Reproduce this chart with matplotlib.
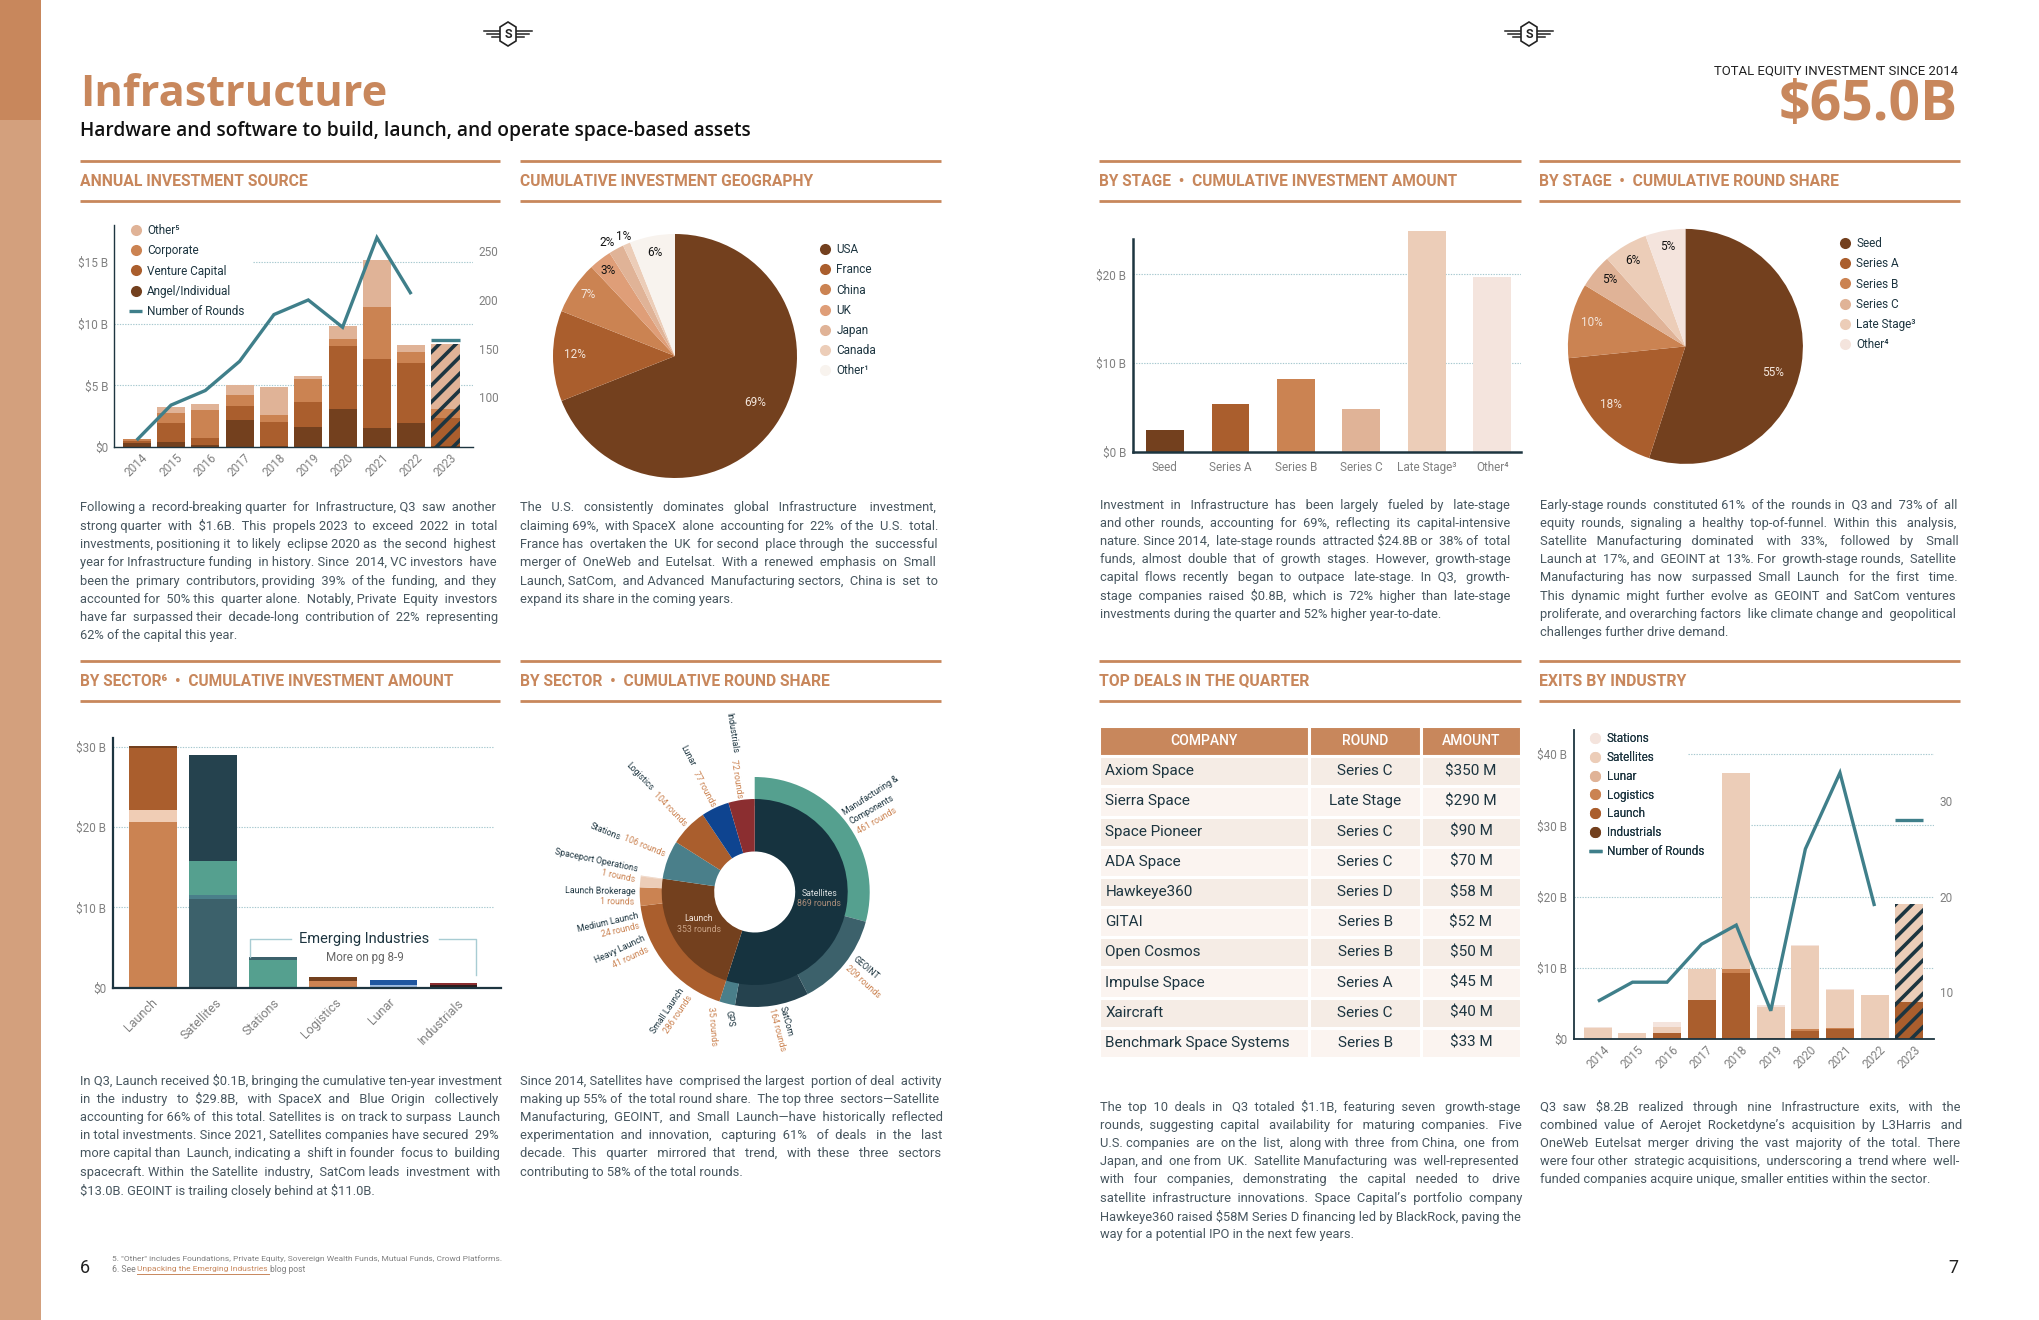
import matplotlib
matplotlib.use("Agg")
import matplotlib.pyplot as plt
from matplotlib.lines import Line2D
from matplotlib.patches import Rectangle, Polygon
from matplotlib.transforms import ScaledTranslation

plt.rcParams['font.family'] = ['Roboto', 'DejaVu Sans']
plt.rcParams['text.parse_math'] = False
plt.rcParams['hatch.linewidth'] = 2.6

W, H = 2040, 1320
INK = '#1D3540'; GREY = '#808080'; BODY = '#47565F'; TAN = '#C8875C'; TAN_L = '#D3A07D'
BR1 = '#73401E'; BR2 = '#AA5E2D'; BR3 = '#CB8352'; BR4 = '#E0B397'; BR5 = '#ECCDB8'; BR6 = '#F4E4DD'
TEAL = '#3F7F8A'; GRID = '#A6C8CF'

# ---- annual investment source
years = ['2014', '2015', '2016', '2017', '2018', '2019', '2020', '2021', '2022', '2023']
src_angel = [0.35, 0.43, 0.19, 2.21, 0.10, 1.64, 3.10, 1.56, 1.97, 0.10]
src_vc = [0.15, 1.54, 0.56, 1.13, 1.95, 2.03, 5.09, 5.58, 4.85, 2.27]
src_corp = [0.15, 0.81, 2.27, 0.89, 0.56, 1.86, 0.57, 4.21, 0.89, 0.73]
src_other = [0.00, 0.48, 0.48, 0.81, 2.27, 0.24, 1.05, 3.85, 0.56, 5.26]
src_rounds = [56, 92, 107, 137, 185, 200, 172, 264, 206]
src_rounds_2023 = 159

# ---- geography
geo_names = ['USA', 'France', 'China', 'UK', 'Japan', 'Canada', 'Other¹']
geo_share = [69, 12, 7, 3, 2, 1, 6]
geo_labels = ['69%', '12%', '7%', '3%', '2%', '1%', '6%']

# ---- stage
stage_names = ['Seed', 'Series A', 'Series B', 'Series C', 'Late Stage³', 'Other⁴']
stage_amount = [2.42, 5.37, 8.22, 4.80, 24.9, 19.7]
stage_share = [55, 18.4, 10.3, 4.7, 6.1, 5.5]
stage_legend = ['Seed', 'Series A', 'Series B', 'Series C', 'Late Stage³', 'Other⁴']
stage_labels = ['55%', '18%', '10%', '5%', '6%', '5%']

# ---- sector amount: one stack per sector, bottom first
sector_names = ['Launch', 'Satellites', 'Stations', 'Logistics', 'Lunar', 'Industrials']
launch_parts = [20.6, 1.5, 7.8, 0.2]
satellite_parts = [11.0, 0.6, 4.2, 13.2]
station_parts = [3.5, 0.35]
logistic_parts = [0.8, 0.55]
lunar_parts = [0.35, 0.6]
industrial_parts = [0.3, 0.3]

# ---- sector round share
sun_inner_names = ['Satellites', 'Launch', 'Stations', 'Logistics', 'Lunar', 'Industrials']
sun_inner = [869, 353, 106, 104, 77, 72]
sun_outer_names = ['Manufacturing & Components', 'GEOINT', 'SatCom', 'GPS', 'Small Launch',
                   'Heavy Launch', 'Medium Launch', 'Launch Brokerage', 'Spaceport Operations']
sun_outer = [461, 209, 164, 35, 286, 41, 24, 1, 1]

# ---- deals
deal_company = ['Axiom Space', 'Sierra Space', 'Space Pioneer', 'ADA Space', 'Hawkeye360', 'GITAI',
                'Open Cosmos', 'Impulse Space', 'Xaircraft', 'Benchmark Space Systems']
deal_round = ['Series C', 'Late Stage', 'Series C', 'Series C', 'Series D', 'Series B',
              'Series B', 'Series A', 'Series C', 'Series B']
deal_amount = ['$350 M', '$290 M', '$90 M', '$70 M', '$58 M', '$52 M', '$50 M', '$45 M', '$40 M', '$33 M']

# ---- exits
exit_industrials = [0, 0, 0, 0, 0, 0, 0, 0, 0, 0]
exit_launch = [0, 0, 0.9, 5.5, 9.35, 0.18, 1.2, 1.5, 0, 5.3]
exit_logistics = [0, 0, 0, 0, 0.48, 0, 0.3, 0.06, 0, 0]
exit_lunar = [0, 0, 0, 0, 0, 0, 0, 0, 0, 0]
exit_satellites = [1.56, 0.9, 0.84, 4.33, 27.52, 4.37, 11.57, 5.34, 6.23, 13.7]
exit_stations = [0.18, 0, 0.66, 0, 0, 0.25, 0.18, 0.17, 0, 0]
exit_rounds = [9, 11, 11, 15, 17, 8, 25, 33, 19]
exit_rounds_2023 = 28

# ---- text
para1 = ["Following a record-breaking quarter for Infrastructure, Q3 saw another",
         "strong quarter with $1.6B. This propels 2023 to exceed 2022 in total",
         "investments, positioning it to likely eclipse 2020 as the second highest",
         "year for Infrastructure funding in history. Since 2014, VC investors have",
         "been the primary contributors, providing 39% of the funding, and they",
         "accounted for 50% this quarter alone. Notably, Private Equity investors",
         "have far surpassed their decade-long contribution of 22% representing",
         "62% of the capital this year."]
para2 = ["The U.S. consistently dominates global Infrastructure investment,",
         "claiming 69%, with SpaceX alone accounting for 22% of the U.S. total.",
         "France has overtaken the UK for second place through the successful",
         "merger of OneWeb and Eutelsat. With a renewed emphasis on Small",
         "Launch, SatCom, and Advanced Manufacturing sectors, China is set to",
         "expand its share in the coming years."]
para3 = ["Investment in Infrastructure has been largely fueled by late-stage",
         "and other rounds, accounting for 69%, reflecting its capital-intensive",
         "nature. Since 2014, late-stage rounds attracted $24.8B or 38% of total",
         "funds, almost double that of growth stages. However, growth-stage",
         "capital flows recently began to outpace late-stage. In Q3, growth-",
         "stage companies raised $0.8B, which is 72% higher than late-stage",
         "investments during the quarter and 52% higher year-to-date."]
para4 = ["Early-stage rounds constituted 61% of the rounds in Q3 and 73% of all",
         "equity rounds, signaling a healthy top-of-funnel. Within this analysis,",
         "Satellite Manufacturing dominated with 33%, followed by Small",
         "Launch at 17%, and GEOINT at 13%. For growth-stage rounds, Satellite",
         "Manufacturing has now surpassed Small Launch for the first time.",
         "This dynamic might further evolve as GEOINT and SatCom ventures",
         "proliferate, and overarching factors like climate change and geopolitical",
         "challenges further drive demand."]
para5 = ["In Q3, Launch received $0.1B, bringing the cumulative ten-year investment",
         "in the industry to $29.8B, with SpaceX and Blue Origin collectively",
         "accounting for 66% of this total. Satellites is on track to surpass Launch",
         "in total investments. Since 2021, Satellites companies have secured 29%",
         "more capital than Launch, indicating a shift in founder focus to building",
         "spacecraft. Within the Satellite industry, SatCom leads investment with",
         "$13.0B. GEOINT is trailing closely behind at $11.0B."]
para6 = ["Since 2014, Satellites have comprised the largest portion of deal activity",
         "making up 55% of the total round share. The top three sectors—Satellite",
         "Manufacturing, GEOINT, and Small Launch—have historically reflected",
         "experimentation and innovation, capturing 61% of deals in the last",
         "decade. This quarter mirrored that trend, with these three sectors",
         "contributing to 58% of the total rounds."]
para7 = ["The top 10 deals in Q3 totaled $1.1B, featuring seven growth-stage",
         "rounds, suggesting capital availability for maturing companies. Five",
         "U.S. companies are on the list, along with three from China, one from",
         "Japan, and one from UK. Satellite Manufacturing was well-represented",
         "with four companies, demonstrating the capital needed to drive",
         "satellite infrastructure innovations. Space Capital’s portfolio company",
         "Hawkeye360 raised $58M Series D financing led by BlackRock, paving the",
         "way for a potential IPO in the next few years."]
para8 = ["Q3 saw $8.2B realized through nine Infrastructure exits, with the",
         "combined value of Aerojet Rocketdyne’s acquisition by L3Harris and",
         "OneWeb Eutelsat merger driving the vast majority of the total. There",
         "were four other strategic acquisitions, underscoring a trend where well-",
         "funded companies acquire unique, smaller entities within the sector."]

fig = plt.figure(figsize=(W / 100, H / 100), dpi=100, facecolor='white')
renderer = fig.canvas.get_renderer()


def axpx(x0, y0, x1, y1):
    return fig.add_axes([x0 / W, 1 - y1 / H, (x1 - x0) / W, (y1 - y0) / H])


page = fig.add_axes([0, 0, 1, 1])
page.set_xlim(0, W)
page.set_ylim(H, 0)
page.axis('off')
page.set_zorder(5)


def fit(t, width):
    t.set_fontsize(t.get_fontsize() * width / t.get_window_extent(renderer).width)
    return t


def txt(x, y, s, size=9, color=INK, ha='left', va='center', weight='normal', rot=0, width=None, **kw):
    t = page.text(x, y, s, fontsize=size, color=color, ha=ha, va=va, fontweight=weight,
                  rotation=rot, rotation_mode='anchor', **kw)
    if width:
        fit(t, width)
    return t


def body(lines, x0, x1, y0, justify_last=False, size=9.3, pitch=18.25):
    for i, line in enumerate(lines):
        y = y0 + i * pitch
        t = txt(x0, y, line, size=size, color=BODY)
        if i == len(lines) - 1 and not justify_last:
            continue
        target = x1 - x0
        natural = t.get_window_extent(renderer).width
        words = line.split(' ')
        gaps = len(words) - 1
        probe = txt(0, 0, ' a a', size=size)
        base = txt(0, 0, 'aa', size=size)
        sp = (probe.get_window_extent(renderer).width - base.get_window_extent(renderer).width) / 2
        probe.remove()
        base.remove()
        extra = max(0, round((target - natural) / sp))
        pieces = words[0]
        for k in range(gaps):
            n = 1 + (extra * (k + 1)) // gaps - (extra * k) // gaps
            pieces += ' ' * n + words[k + 1]
        t.set_text(pieces)
        fit(t, target)


def pie_axes(cx, cy, r):
    return axpx(cx - 1.25 * r, cy - 1.25 * r, cx + 1.25 * r, cy + 1.25 * r)


def make_legend(x, y, names, colors, size=8.5, pitch=20, line_last=False):
    fs_px = size * 100 / 72
    hs = [Line2D([], [], ls='none', marker='o', ms=8, mfc=c, mec='none') for c in colors]
    if line_last:
        hs[-1] = Line2D([], [], color=colors[-1], lw=2.4, solid_capstyle='butt')
    leg = page.legend(hs, names, loc='upper left', bbox_to_anchor=(x - 6.5, y), bbox_transform=page.transData,
                      frameon=False, borderpad=0, borderaxespad=0, fontsize=size,
                      handlelength=13 / fs_px, handletextpad=5 / fs_px,
                      labelspacing=(pitch - fs_px * 1.08) / fs_px, labelcolor=INK)
    page.add_artist(leg)
    return leg


def style(ax, lw=1.0, tick=8.5):
    for s in ['top', 'right']:
        ax.spines[s].set_visible(False)
    for s in ['left', 'bottom']:
        ax.spines[s].set_color(INK)
        ax.spines[s].set_linewidth(lw)
    ax.tick_params(length=0, labelsize=tick, labelcolor=GREY)
    ax.patch.set_alpha(0)


def grid(ax, ys, x0, x1):
    ax.hlines(ys, x0, x1, colors=GRID, linestyles=(0, (1.2, 1.2)), lw=0.8, zorder=0)


def stack(ax, xs, series, colors, width, hatch_last=True):
    bottom = [0.0] * len(xs)
    for vals, c in zip(series, colors):
        bars = ax.bar(xs, vals, width, bottom=bottom, color=c, linewidth=0, zorder=2)
        if hatch_last:
            bars[-1].set_hatch('//')
            bars[-1].set_edgecolor(INK)
        bottom = [b + v for b, v in zip(bottom, vals)]


# ---- page furniture
page.add_patch(Rectangle((0, 0), 41, 1320, fc=TAN_L, ec='none'))
page.add_patch(Rectangle((0, 0), 41, 120, fc=TAN, ec='none'))
for lx in (508, 1529):
    for dy, ln in ((-3, 24), (0, 21), (3, 16)):
        page.plot([lx - ln, lx + ln], [34 + dy, 34 + dy], color='#222222', lw=1.1, zorder=3)
    page.add_patch(Polygon([(lx, 22), (lx + 8, 27), (lx + 8, 41), (lx, 46), (lx - 8, 41), (lx - 8, 27)],
                           closed=True, fc='white', ec='#222222', lw=1.2, zorder=4))
    txt(lx, 34.5, 'S', size=9, color='#222222', ha='center', weight='bold', zorder=5)

txt(80, 94, 'Infrastructure', size=29, color=TAN, weight='bold', width=306, family=['Open Sans', 'DejaVu Sans'])
txt(80, 131, 'Hardware and software to build, launch, and operate space-based assets', size=12.5,
    color='#111111', weight='semibold', width=672, family=['Open Sans', 'DejaVu Sans'])
txt(1958, 71, 'TOTAL EQUITY INVESTMENT SINCE 2014', size=9, color='#222222', ha='right', width=242)
txt(1958, 106, '$65.0B', size=34, color=TAN, ha='right', weight='bold', width=179, family=['Open Sans', 'DejaVu Sans'])

cols = [(80, 500), (520, 941), (1099, 1521), (1539, 1960)]
for x0, x1 in cols:
    for yy in (161, 201, 660.5, 701):
        page.plot([x0, x1], [yy, yy], color=TAN, lw=2.0, solid_capstyle='butt', zorder=1)

headers = [(80, 181, 'ANNUAL INVESTMENT SOURCE', 229), (520, 181, 'CUMULATIVE INVESTMENT GEOGRAPHY', 295),
           (1099, 181, 'BY STAGE  •  CUMULATIVE INVESTMENT AMOUNT', 360), (1539, 181, 'BY STAGE  •  CUMULATIVE ROUND SHARE', 302),
           (80, 681, 'BY SECTOR⁶  •  CUMULATIVE INVESTMENT AMOUNT', 377), (520, 681, 'BY SECTOR  •  CUMULATIVE ROUND SHARE', 312),
           (1099, 681, 'TOP DEALS IN THE QUARTER', 211), (1539, 681, 'EXITS BY INDUSTRY', 147)]
for x, y, s, w in headers:
    txt(x, y, s, size=10.5, color=TAN, weight='bold', width=w)

body(para1, 80, 497, 508)
body(para2, 520, 937, 508)
body(para3, 1100, 1509, 505)
body(para4, 1540, 1956, 505)
body(para5, 80, 499.5, 1081)
body(para6, 520, 940, 1081)
body(para7, 1100, 1519.5, 1107)
body(para8, 1540, 1960, 1107)

txt(80, 1268, '6', size=13, color='#222222')
txt(1958, 1268, '7', size=13, color='#222222', ha='right')
txt(112, 1258.5, '5. "Other" includes Foundations, Private Equity, Sovereign Wealth Funds, Mutual Funds, Crowd Platforms.',
    size=6, color=GREY, width=391)
txt(112, 1269, '6. See', size=6, color=GREY, width=24)
txt(137, 1269, 'Unpacking the Emerging Industries', size=6, color=TAN, width=132)
page.plot([137, 269], [1273.5, 1273.5], color=TAN, lw=0.7)
txt(270.5, 1269, 'blog post', size=6, color=GREY, width=36)

# ---- annual investment source
ax = axpx(114, 225, 473, 447)
style(ax)
xs = list(range(len(years)))
grid(ax, [5, 10], -0.66, 9.8)
grid(ax, [15], 3.39, 9.8)
stack(ax, xs, [src_angel, src_vc, src_corp, src_other], [BR1, BR2, BR3, BR4], 0.82)
ax.set_xlim(-0.66, 9.8)
ax.set_ylim(0, 18)
ax.set_yticks([0, 5, 10, 15], ['$0', '$5 B', '$10 B', '$15 B'])
ax.set_xticks(xs, years, rotation=45, ha='center', va='top')
ax.tick_params(axis='x', pad=3)
ax.tick_params(axis='y', pad=4)
ax2 = ax.twinx()
ax2.set_ylim(49, 277)
ax2.plot(xs[:-1], src_rounds, color=TEAL, lw=2.4, solid_joinstyle='miter', solid_capstyle='butt', zorder=3)
ax2.plot([xs[-1] - 0.41, xs[-1] + 0.41], [src_rounds_2023] * 2, color=TEAL, lw=2.4, solid_capstyle='butt')
ax2.set_yticks([100, 150, 200, 250])
ax2.tick_params(length=0, labelsize=8.5, labelcolor=GREY, pad=4)
for s in ax2.spines.values():
    s.set_visible(False)
make_legend(135.7, 224, ['Other⁵', 'Corporate', 'Venture Capital', 'Angel/Individual', 'Number of Rounds'],
            [BR4, BR3, BR2, BR1, TEAL], line_last=True)

# ---- geography pie
geo_colors = [BR1, BR2, BR3, '#DF9E78', BR4, BR5, '#F8F3EE']
ax = pie_axes(675, 356, 122)
ax.pie(geo_share, colors=geo_colors, startangle=90, counterclock=False, radius=1, wedgeprops={'linewidth': 0})
ax.set_xlim(-1.25, 1.25)
ax.set_ylim(-1.25, 1.25)
geo_label_pos = [(755, 403, '#F3E6DC'), (575, 355, '#F3E6DC'), (588, 294, '#F3E6DC'), (608, 270, '#111111'),
                 (607, 242, '#111111'), (624, 237, '#111111'), (655, 252, '#111111')]
for lab, (x, y, c) in zip(geo_labels, geo_label_pos):
    txt(x, y, lab, size=8.5, color=c, ha='center')
make_legend(825, 243, geo_names, geo_colors)

# ---- stage amount
ax = axpx(1133, 239, 1521, 451.6)
style(ax, lw=1.8)
xs = list(range(len(stage_names)))
grid(ax, [10, 20], -0.487, 5.44)
ax.bar(xs, stage_amount, 0.575, color=[BR1, BR2, BR3, BR4, BR5, BR6], linewidth=0, zorder=2, clip_on=False)
ax.set_xlim(-0.487, 5.44)
ax.set_ylim(0, 24)
ax.set_xticks(xs, stage_names)
ax.set_yticks([0, 10, 20], ['$0 B', '$10 B', '$20 B'])
ax.tick_params(axis='x', pad=7)
ax.tick_params(axis='y', pad=5)

# ---- stage pie
stage_colors = [BR1, BR2, BR3, BR4, BR5, BR6]
ax = pie_axes(1685.4, 346.4, 117.5)
ax.pie(stage_share, colors=stage_colors, startangle=90, counterclock=False, radius=1, wedgeprops={'linewidth': 0})
ax.set_xlim(-1.25, 1.25)
ax.set_ylim(-1.25, 1.25)
stage_label_pos = [(1773.4, 372.5, '#F3E6DC'), (1611, 405, '#F3E6DC'), (1591.6, 323, '#F3E6DC'), (1610, 279.5, '#111111'),
                   (1633, 260, '#111111'), (1668, 246, '#111111')]
for lab, (x, y, c) in zip(stage_labels, stage_label_pos):
    txt(x, y, lab, size=8.5, color=c, ha='center')
make_legend(1845, 237, stage_legend, stage_colors)

# ---- sector amount
ax = axpx(113, 738.5, 501, 987.6)
style(ax, lw=1.6, tick=9)
grid(ax, [10, 20, 30], -0.668, 5.68)
sector_stacks = [launch_parts, satellite_parts, station_parts, logistic_parts, lunar_parts, industrial_parts]
sector_colors = [[BR3, '#F0CDB5', BR2, BR1], ['#3C616B', '#4A7F8A', '#55A08F', '#25424E'],
                 ['#55A08F', '#3C616B'], [BR3, BR1], ['#9DBBDF', '#1F57A0'], ['#2B1D1D', '#8B2E30']]
for i, (parts, cs) in enumerate(zip(sector_stacks, sector_colors)):
    b = 0
    for v, c in zip(parts, cs):
        ax.bar(i, v, 0.795, bottom=b, color=c, linewidth=0, zorder=2)
        b += v
ax.set_xlim(-0.668, 5.79)
ax.set_ylim(0, 31.06)
ax.set_yticks([0, 10, 20, 30], ['$0', '$10 B', '$20 B', '$30 B'])
ax.set_xticks(range(6), sector_names, rotation=45, ha='center', va='top')
ax.tick_params(axis='x', pad=6)
ax.tick_params(axis='y', pad=5, labelsize=8.5)
shift = ScaledTranslation(-12 / 100, 0, fig.dpi_scale_trans)
for lab in ax.get_xticklabels():
    lab.set_transform(lab.get_transform() + shift)
page.plot([291, 250, 250], [939, 939, 957], color='#A8CCD3', lw=1.0)
page.plot([439, 476, 476], [939, 939, 975], color='#A8CCD3', lw=1.0)
txt(364.5, 939, 'Emerging Industries', size=10.5, color=INK, ha='center', width=130)
txt(364.5, 957, 'More on pg 8-9', size=8.2, color='#666666', ha='center', width=78)

# ---- sector sunburst
ax = pie_axes(754.7, 892, 115)
inner_colors = ['#16333F', BR1, '#4A7F8A', BR2, '#0E4490', '#8B2E30']
outer_colors = ['#55A08F', '#3C616B', '#25424E', '#4A7F8A', BR2, BR3, BR5, BR5, BR5, (0, 0, 0, 0)]
# the outer ring only continues Satellites and Launch; the rest of the circle stays empty
ax.pie(sun_outer + [sum(sun_inner) - sum(sun_outer)], colors=outer_colors, startangle=90, counterclock=False,
       radius=1.0, wedgeprops={'width': 0.25, 'linewidth': 0})
ax.pie(sun_inner, colors=inner_colors, startangle=90, counterclock=False, radius=93 / 115,
       wedgeprops={'width': 52.5 / 115, 'linewidth': 0})
ax.set_xlim(-1.25, 1.25)
ax.set_ylim(-1.25, 1.25)


def z5(x, y):
    return x / 3 + 530, y / 3 + 710


sun_text = [('Industrials', 607, 68, -81, INK), ('72 rounds', 620, 205, -81, BR3),
            ('Lunar', 472, 138, -62, INK), ('77 rounds', 522, 236, -62, BR3),
            ('Logistics', 328, 200, -46, INK), ('104 rounds', 420, 297, -46, BR3),
            ('Stations', 226, 364, -22, INK), ('106 rounds', 342, 409, -22, BR3),
            ('Spaceport Operations', 200, 452, -12, INK), ('1 rounds', 265, 497, -12, BR3),
            ('Launch Brokerage', 210, 542, -1, INK), ('1 rounds', 260, 575, -1, BR3),
            ('Medium Launch', 235, 637, 13, INK), ('24 rounds', 270, 662, 13, BR3),
            ('Heavy Launch', 270, 718, 25, INK), ('41 rounds', 302, 742, 25, BR3),
            ('Small Launch', 412, 902, 56, INK), ('286 rounds', 445, 912, 56, BR3),
            ('GPS', 597, 925, -80, INK), ('35 rounds', 548, 948, -85, BR3),
            ('SatCom', 768, 935, -75, INK), ('164 rounds', 742, 960, -75, BR3),
            ('GEOINT', 1008, 775, -40, INK), ('209 rounds', 1000, 815, -42, BR3),
            ('Manufacturing &', 1022, 258, 33, INK), ('Components', 1026, 298, 30, INK), ('461 rounds', 1040, 334, 30, BR3)]
for s, x, y, r, c in sun_text:
    px, py = z5(x, y)
    txt(px, py, s, size=6.3, color=c, ha='center', rot=r)
for s, x, y, c in [('Satellites', 868, 552, '#D8DEE0'), ('869 rounds', 868, 582, '#A88B78'),
                   ('Launch', 506, 626, '#F3E6DC'), ('353 rounds', 506, 659, '#C9A184')]:
    px, py = z5(x, y)
    txt(px, py, s, size=6.3, color=c, ha='center')

# ---- deals table
ax = axpx(1099, 726, 1521, 1058)
ax.axis('off')
rows = [list(r) for r in zip(deal_company, deal_round, deal_amount)]
tab = ax.table(cellText=rows, colLabels=['COMPANY', 'ROUND', 'AMOUNT'], colWidths=[210.5 / 422, 111.5 / 422, 100 / 422],
               cellLoc='center', bbox=[0, 0, 1, 1])
tab.auto_set_font_size(False)
tab.set_fontsize(11)
for (r, c), cell in tab.get_celld().items():
    cell.set_edgecolor('white')
    cell.set_linewidth(2.2)
    if r == 0:
        cell.set_facecolor(TAN)
        cell.set_text_props(color='white', fontweight='medium', fontsize=10)
    else:
        cell.set_facecolor('#F5ECE5' if r % 2 == 1 else '#FBF4F0')
        cell.set_text_props(color=INK)
        if c == 0:
            cell.PAD = 0.03
            cell.set_text_props(ha='left')
            cell._loc = 'left'

# ---- exits
ax = axpx(1574.4, 730, 1934, 1039.3)
style(ax, lw=1.3)
xs = list(range(len(years)))
grid(ax, [10, 20], -0.68, 9.72)
grid(ax, [30], 4.43, 9.72)
grid(ax, [40], 2.6, 9.72)
stack(ax, xs, [exit_industrials, exit_launch, exit_logistics, exit_lunar, exit_satellites, exit_stations],
      [BR1, BR2, BR3, BR4, BR5, BR6], 0.81)
ax.set_xlim(-0.68, 9.72)
ax.set_ylim(0, 43.4)
ax.set_yticks([0, 10, 20, 30, 40], ['$0', '$10 B', '$20 B', '$30 B', '$40 B'])
ax.set_xticks(xs, years, rotation=45, ha='center', va='top')
ax.tick_params(axis='x', pad=3)
ax.tick_params(axis='y', pad=5)
ax2 = ax.twinx()
ax2.set_ylim(5, 37.5)
ax2.plot(xs[:-1], exit_rounds, color=TEAL, lw=2.4, solid_joinstyle='miter', solid_capstyle='butt', zorder=3)
ax2.plot([xs[-1] - 0.405, xs[-1] + 0.405], [exit_rounds_2023] * 2, color=TEAL, lw=2.4, solid_capstyle='butt')
ax2.set_yticks([10, 20, 30])
ax2.tick_params(length=0, labelsize=8.5, labelcolor=GREY, pad=4)
for s in ax2.spines.values():
    s.set_visible(False)
make_legend(1595.5, 732, ['Stations', 'Satellites', 'Lunar', 'Logistics', 'Launch', 'Industrials', 'Number of Rounds'],
            [BR6, BR5, BR4, BR3, BR2, BR1, TEAL], pitch=18.6, line_last=True)

fig.savefig('out.png', dpi=100, facecolor='white')
